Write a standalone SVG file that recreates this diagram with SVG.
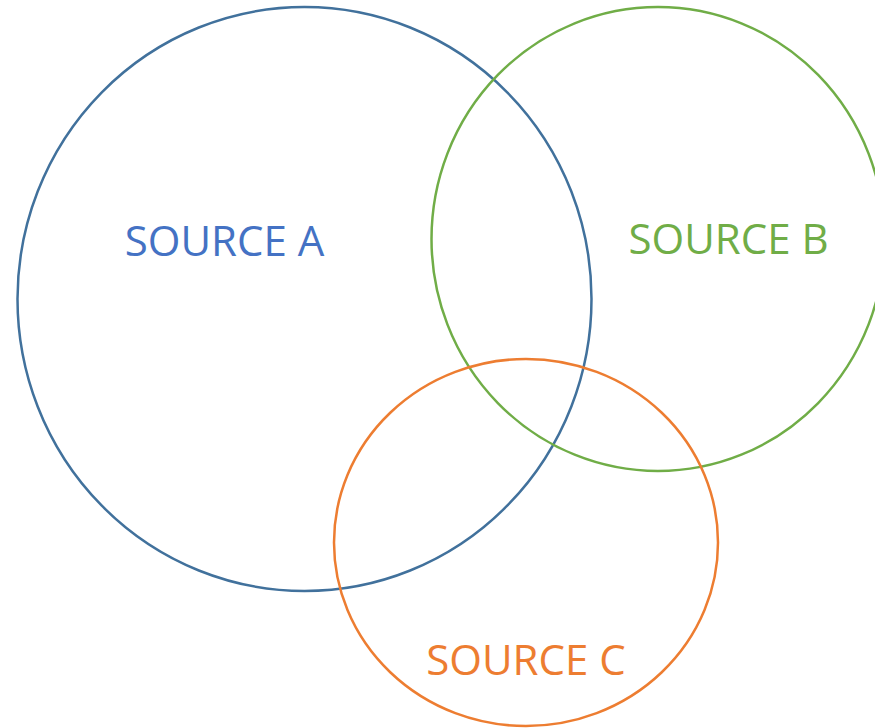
<svg xmlns="http://www.w3.org/2000/svg" width="875" height="728" viewBox="0 0 875 728">
<style>
.c{fill:none;stroke-width:2.5}
.t{font-family:"Open Sans","Noto Sans",sans-serif;font-size:42px;text-anchor:middle}
</style>
<rect width="875" height="728" fill="#ffffff"/>
<g id="sourceA">
<ellipse class="c" cx="304.5" cy="299" rx="287" ry="292" stroke="#41719C"/>
<text class="t" x="224.5" y="256" fill="#4472C4">SOURCE A</text>
</g>
<g id="sourceB">
<ellipse class="c" cx="658" cy="239" rx="226.5" ry="232" stroke="#70AD47"/>
<text class="t" x="728.5" y="254" fill="#70AD47">SOURCE B</text>
</g>
<g id="sourceC">
<ellipse class="c" cx="526" cy="542.5" rx="192" ry="183.5" stroke="#ED7D31"/>
<text class="t" x="526" y="675" fill="#ED7D31">SOURCE C</text>
</g>
<g id="connectors"/>
</svg>
